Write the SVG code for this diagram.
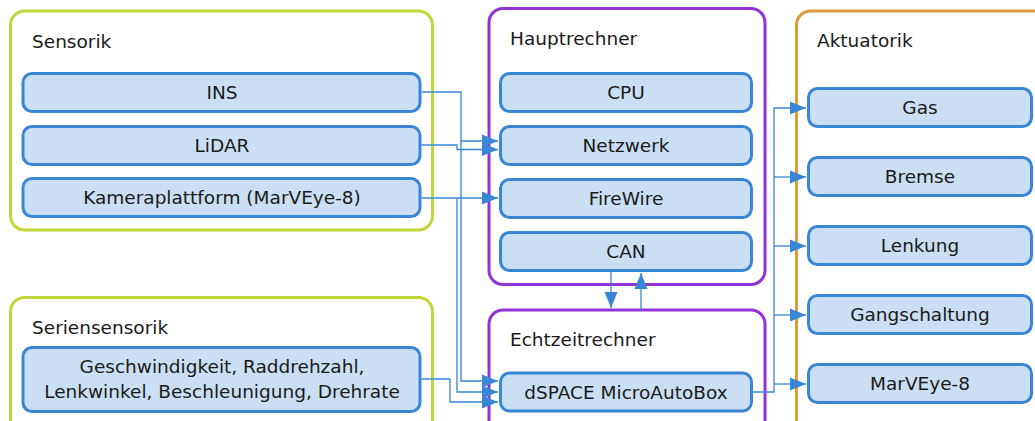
<svg xmlns="http://www.w3.org/2000/svg" width="1035" height="421" viewBox="0 0 1035 421">
<style>
text{font-family:"DejaVu Sans","Liberation Sans",sans-serif;font-size:18.5px;fill:#1a1a1a}
.c{text-anchor:middle}
.n{fill:#cadff3;stroke:#3a86d6;stroke-width:3}
.g{fill:#fff;stroke:#c0d63a;stroke-width:3}
.p{fill:#fff;stroke:#9133d6;stroke-width:3}
.o{fill:#fff;stroke:#dd9a3a;stroke-width:3}
.e{fill:none;stroke:#3a86d6;stroke-width:1.3}
</style>
<defs>
<marker id="a" markerUnits="userSpaceOnUse" markerWidth="16" markerHeight="14" refX="16" refY="7" orient="auto"><path d="M0 0.5 L16 7 L0 13.5z" fill="#3a86d6"/></marker>
</defs>
<rect width="1035" height="421" fill="#fff"/>
<g id="sensorik"><rect class="g" x="10.5" y="11" width="422" height="219" rx="14"/><text x="32" y="48">Sensorik</text></g>
<g id="seriensensorik"><rect class="g" x="10.5" y="297.5" width="422" height="140" rx="14"/><text x="32" y="334">Seriensensorik</text></g>
<g id="hauptrechner"><rect class="p" x="489" y="8.5" width="276" height="276" rx="14"/><text x="510" y="45">Hauptrechner</text></g>
<g id="echtzeitrechner"><rect class="p" x="489" y="310" width="276" height="130" rx="14"/><text x="510" y="346">Echtzeitrechner</text></g>
<g id="aktuatorik"><rect class="o" x="796.5" y="11" width="260" height="430" rx="14"/><text x="817" y="47">Aktuatorik</text></g>

<g id="ins"><rect class="n" x="23" y="73.5" width="397" height="38" rx="9"/><text class="c" x="222" y="99">INS</text></g>
<g id="lidar"><rect class="n" x="23" y="126.5" width="397" height="38" rx="9"/><text class="c" x="222" y="152">LiDAR</text></g>
<g id="kamera"><rect class="n" x="23" y="178.5" width="397" height="38" rx="9"/><text class="c" x="222" y="204">Kameraplattform (MarVEye-8)</text></g>
<g id="serien"><rect class="n" x="23" y="347.5" width="397" height="64" rx="9"/><text class="c" x="222" y="373">Geschwindigkeit, Raddrehzahl,</text><text class="c" x="222" y="398">Lenkwinkel, Beschleunigung, Drehrate</text></g>

<g id="cpu"><rect class="n" x="500.5" y="73.5" width="251" height="38" rx="9"/><text class="c" x="626" y="99">CPU</text></g>
<g id="netzwerk"><rect class="n" x="500.5" y="126.5" width="251" height="38" rx="9"/><text class="c" x="626" y="152">Netzwerk</text></g>
<g id="firewire"><rect class="n" x="500.5" y="179.5" width="251" height="38" rx="9"/><text class="c" x="626" y="205">FireWire</text></g>
<g id="can"><rect class="n" x="500.5" y="232.5" width="251" height="38" rx="9"/><text class="c" x="626" y="258">CAN</text></g>
<g id="dspace"><rect class="n" x="500.5" y="373" width="251" height="38" rx="9"/><text class="c" x="626" y="398.5">dSPACE MicroAutoBox</text></g>

<g id="gas"><rect class="n" x="808.5" y="88.5" width="223" height="38" rx="9"/><text class="c" x="920" y="114">Gas</text></g>
<g id="bremse"><rect class="n" x="808.5" y="157.5" width="223" height="38" rx="9"/><text class="c" x="920" y="183">Bremse</text></g>
<g id="lenkung"><rect class="n" x="808.5" y="226.5" width="223" height="38" rx="9"/><text class="c" x="920" y="252">Lenkung</text></g>
<g id="gangschaltung"><rect class="n" x="808.5" y="295.5" width="223" height="38" rx="9"/><text class="c" x="920" y="321">Gangschaltung</text></g>
<g id="marveye"><rect class="n" x="808.5" y="364.5" width="223" height="38" rx="9"/><text class="c" x="920" y="390">MarVEye-8</text></g>

<g id="connectors">
<path class="e" d="M421.5 92 H461 V141 H498" marker-end="url(#a)"/>
<path class="e" d="M461 141 V381 H498" marker-end="url(#a)"/>
<path class="e" d="M421.5 145 H457 V149.5 H498" marker-end="url(#a)"/>
<path class="e" d="M421.5 198 H498" marker-end="url(#a)"/>
<path class="e" d="M457 198 V392 H498" marker-end="url(#a)"/>
<path class="e" d="M421.5 379 H450 V402 H498" marker-end="url(#a)"/>
<path class="e" d="M611 272 V308" marker-end="url(#a)"/>
<path class="e" d="M641 310 V273" marker-end="url(#a)"/>
<path class="e" d="M752 392 H774 V108 H806" marker-end="url(#a)"/>
<path class="e" d="M774 177 H806" marker-end="url(#a)"/>
<path class="e" d="M774 246 H806" marker-end="url(#a)"/>
<path class="e" d="M774 315 H806" marker-end="url(#a)"/>
<path class="e" d="M774 384 H806" marker-end="url(#a)"/>
</g>
</svg>
